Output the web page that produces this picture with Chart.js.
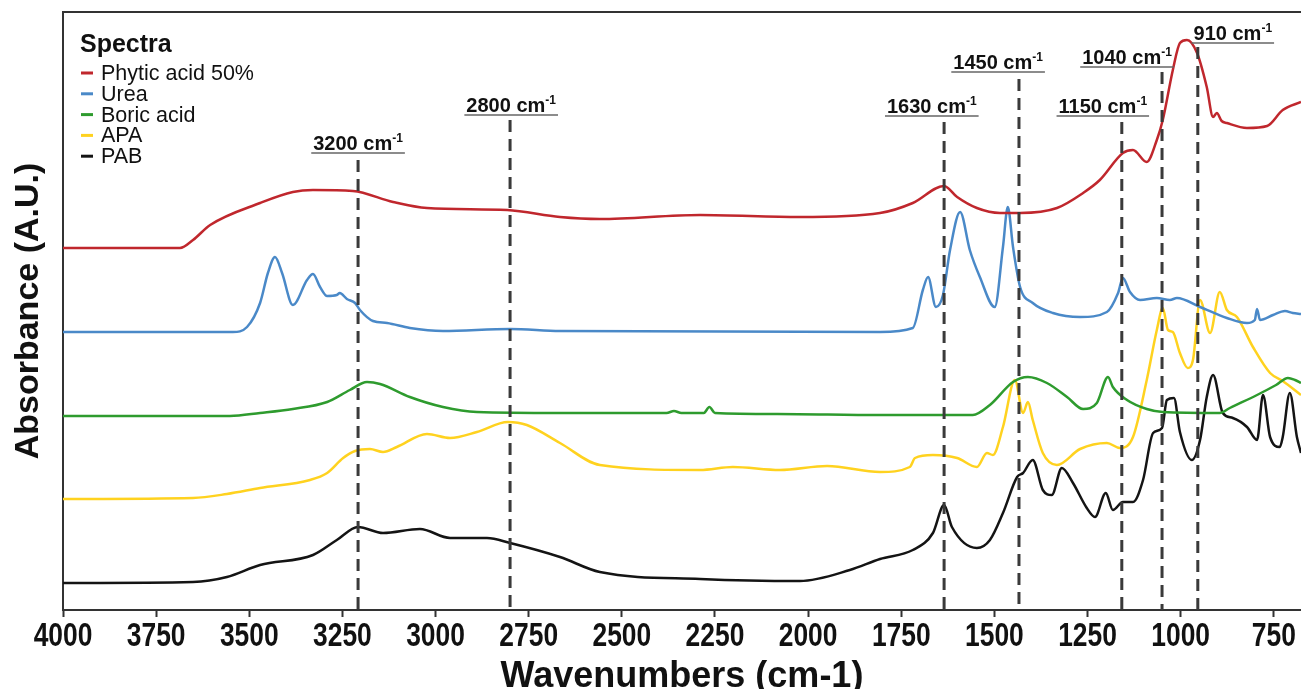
<!DOCTYPE html>
<html>
<head>
<meta charset="utf-8">
<script src="https://cdn.jsdelivr.net/npm/chart.js@4/dist/chart.umd.min.js"></script>
<style>
  html, body { margin: 0; padding: 0; background: #fff; overflow: hidden; }
  #wrap { width: 1301px; height: 689px; }
</style>
</head>
<body>
<div id="wrap"><canvas id="espectros"></canvas></div>
<script>
// espectros FTIR (absorbancia en unidades arbitrarias, ya desplazados)
const phyticWave = [4000, 3686, 3651, 3605, 3471, 3383, 3329, 3222, 3114, 3023, 2808, 2666, 2559, 2290, 2022, 1807, 1719, 1635, 1600, 1547, 1485, 1431, 1332, 1262, 1217, 1155, 1128, 1091, 1064, 1048, 1021, 1002, 983, 956, 930, 913, 903, 890, 876, 822, 768, 726, 677];
const phyticAbs  = [362, 362, 370, 385, 407, 418, 420, 419, 408, 402, 400, 393, 391, 395, 393, 397, 407, 424, 413, 402, 397, 397, 402, 417, 430, 457, 460, 448, 470, 490, 540, 567, 570, 557, 523, 493, 497, 489, 487, 482, 484, 500, 508];

const ureaWave = [4000, 3544, 3506, 3471, 3450, 3431, 3412, 3383, 3345, 3329, 3310, 3291, 3265, 3257, 3238, 3216, 3203, 3168, 3130, 3069, 2980, 2800, 2666, 1807, 1719, 1692, 1678, 1657, 1638, 1619, 1592, 1566, 1539, 1499, 1477, 1464, 1450, 1431, 1397, 1343, 1270, 1198, 1168, 1155, 1136, 1109, 1064, 1029, 1010, 948, 876, 822, 801, 795, 787, 752, 720, 699, 677];
const ureaAbs  = [278, 278, 283, 307, 337, 353, 337, 305, 330, 336, 323, 314, 315, 317, 311, 307, 300, 289, 287, 282, 279, 281, 279, 278, 282, 320, 333, 303, 315, 360, 398, 360, 333, 303, 363, 403, 363, 323, 307, 297, 293, 298, 317, 332, 318, 310, 312, 310, 312, 303, 292, 287, 290, 301, 290, 295, 299, 297, 296];

const boricWave = [4000, 3552, 3471, 3383, 3291, 3230, 3184, 3149, 3069, 2980, 2889, 2666, 2380, 2360, 2340, 2280, 2265, 2250, 2083, 1807, 1558, 1512, 1450, 1410, 1359, 1305, 1262, 1225, 1195, 1182, 1144, 1091, 1048, 895, 868, 795, 744, 712, 693, 677];
const boricAbs  = [194, 194, 197, 201, 208, 220, 228, 226, 213, 203, 198, 197, 197, 199, 197, 197, 203, 197, 196, 195, 195, 205, 228, 233, 227, 213, 201, 207, 233, 223, 210, 201, 198, 197, 202, 215, 225, 232, 230, 227];

const apaWave = [4000, 3651, 3560, 3471, 3337, 3291, 3248, 3216, 3176, 3141, 3104, 3023, 2961, 2889, 2806, 2755, 2666, 2559, 2290, 2202, 2076, 1949, 1807, 1727, 1713, 1665, 1600, 1547, 1520, 1504, 1477, 1445, 1423, 1410, 1397, 1370, 1332, 1270, 1198, 1163, 1128, 1091, 1064, 1048, 1034, 1021, 1002, 981, 967, 948, 921, 895, 876, 849, 806, 760, 726, 677];
const apaAbs  = [111, 112, 116, 122, 130, 137, 152, 159, 161, 158, 163, 176, 172, 178, 188, 185, 167, 145, 140, 143, 140, 144, 138, 143, 152, 155, 152, 143, 157, 155, 183, 230, 197, 208, 190, 157, 145, 161, 167, 162, 173, 230, 280, 302, 280, 278, 257, 242, 250, 310, 277, 318, 300, 293, 263, 237, 229, 215];

const pabWave = [4000, 3651, 3560, 3471, 3329, 3265, 3208, 3141, 3042, 2961, 2862, 2800, 2666, 2559, 2290, 2022, 1888, 1807, 1719, 1665, 1635, 1614, 1547, 1512, 1477, 1439, 1423, 1397, 1370, 1346, 1319, 1289, 1252, 1230, 1201, 1182, 1155, 1128, 1101, 1074, 1050, 1037, 1018, 1002, 970, 948, 930, 913, 887, 860, 822, 795, 779, 760, 734, 726, 707, 688, 677];
const pabAbs  = [27, 28, 33, 45, 55, 70, 83, 77, 81, 72, 72, 67, 53, 38, 31, 29, 40, 51, 60, 77, 105, 83, 62, 70, 97, 133, 137, 150, 120, 115, 142, 127, 102, 93, 117, 100, 108, 108, 130, 177, 182, 210, 212, 178, 150, 170, 213, 235, 197, 192, 183, 170, 215, 173, 163, 173, 217, 173, 157];

const seriesNames = ['Phytic acid 50%', 'Urea', 'Boric acid', 'APA', 'PAB'];

// bandas marcadas con lineas discontinuas
const bandLabels = ['3200', '2800', '1630', '1450', '1150', '1040', '910'];
const bandLineAt = [3208, 2800, 1635, 1434, 1158, 1050, 954];
const bandLabelAt = [3208, 2797, 1668, 1490, 1209, 1144, 860];
const bandTop = [450, 490, 488, 531, 488, 538, 563];
const bandLabelLevel = [457, 495, 494, 538, 494, 543, 567];

const fuente = '"Liberation Sans", Arial, sans-serif';
const colores = ['#C0272D', '#4A89C8', '#2E9B2E', '#FFD21F', '#141414'];

function puntos(xs, ys) {
  return xs.map((w, i) => ({ x: w, y: ys[i] }));
}

const series = [
  puntos(phyticWave, phyticAbs),
  puntos(ureaWave, ureaAbs),
  puntos(boricWave, boricAbs),
  puntos(apaWave, apaAbs),
  puntos(pabWave, pabAbs)
];

const marcoSuperior = {
  id: 'marcoSuperior',
  afterDraw(chart) {
    const { ctx, chartArea } = chart;
    ctx.save();
    ctx.strokeStyle = '#333';
    ctx.lineWidth = 2;
    ctx.beginPath();
    ctx.moveTo(chartArea.left - 1, chartArea.top);
    ctx.lineTo(chart.width, chartArea.top);
    ctx.stroke();
    ctx.restore();
  }
};

// etiquetas del eje x en letra estrecha (escaladas en horizontal)
const etiquetasX = {
  id: 'etiquetasX',
  afterDraw(chart) {
    const { ctx, chartArea, scales: { x } } = chart;
    ctx.save();
    ctx.fillStyle = '#111';
    ctx.font = 'bold 33px ' + fuente;
    ctx.textAlign = 'center';
    ctx.textBaseline = 'alphabetic';
    x.ticks.forEach(t => {
      const px = x.getPixelForValue(t.value);
      ctx.save();
      ctx.translate(px, chartArea.bottom + 36);
      ctx.scale(0.8, 1);
      ctx.fillText(String(t.value), 0, 0);
      ctx.restore();
    });
    ctx.restore();
  }
};

const bandas = {
  id: 'bandas',
  afterDatasetsDraw(chart) {
    const { ctx, chartArea, scales: { x, y } } = chart;
    ctx.save();
    bandLabels.forEach((lab, i) => {
      const px = x.getPixelForValue(bandLineAt[i]);
      ctx.strokeStyle = '#3a3a3a';
      ctx.lineWidth = 3;
      ctx.setLineDash([12, 7]);
      ctx.beginPath();
      ctx.moveTo(px, y.getPixelForValue(bandTop[i]));
      ctx.lineTo(px, chartArea.bottom);
      ctx.stroke();
      ctx.setLineDash([]);

      const main = lab + ' cm';
      ctx.font = 'bold 20px ' + fuente;
      const w1 = ctx.measureText(main).width;
      ctx.font = 'bold 12px ' + fuente;
      const w2 = ctx.measureText('-1').width;
      const total = w1 + w2;
      const cx = x.getPixelForValue(bandLabelAt[i]);
      const uy = y.getPixelForValue(bandLabelLevel[i]);
      const x0 = cx - total / 2;
      ctx.fillStyle = '#111';
      ctx.textBaseline = 'alphabetic';
      ctx.textAlign = 'left';
      ctx.font = 'bold 20px ' + fuente;
      ctx.fillText(main, x0, uy - 3);
      ctx.font = 'bold 12px ' + fuente;
      ctx.fillText('-1', x0 + w1, uy - 11);
      ctx.strokeStyle = '#666';
      ctx.lineWidth = 1.5;
      ctx.beginPath();
      ctx.moveTo(x0 - 2, uy);
      ctx.lineTo(x0 + total + 2, uy);
      ctx.stroke();
    });
    ctx.restore();
  }
};

const leyenda = {
  id: 'leyenda',
  afterDraw(chart) {
    const { ctx } = chart;
    ctx.save();
    ctx.fillStyle = '#111';
    ctx.textBaseline = 'middle';
    ctx.textAlign = 'left';
    ctx.font = 'bold 25px ' + fuente;
    ctx.fillText('Spectra', 80, 45);
    ctx.font = '21.5px ' + fuente;
    chart.data.datasets.forEach((ds, i) => {
      const yy = 73 + i * 20.8;
      ctx.strokeStyle = ds.borderColor;
      ctx.lineWidth = 3;
      ctx.beginPath();
      ctx.moveTo(81, yy);
      ctx.lineTo(93, yy);
      ctx.stroke();
      ctx.fillStyle = '#111';
      ctx.fillText(ds.label, 101, yy + 1);
    });
    ctx.restore();
  }
};

document.addEventListener('DOMContentLoaded', () => {
  const ctx = document.getElementById('espectros').getContext('2d');
  new Chart(ctx, {
    type: 'line',
    data: {
      datasets: series.map((d, i) => ({
        label: seriesNames[i],
        data: d,
        borderColor: colores[i],
        borderWidth: 2.5,
        pointRadius: 0,
        fill: false,
        cubicInterpolationMode: 'monotone'
      }))
    },
    options: {
      responsive: true,
      maintainAspectRatio: false,
      animation: false,
      layout: { padding: { top: 12, right: 0, bottom: 0, left: 0 } },
      plugins: {
        legend: { display: false },
        tooltip: { enabled: false }
      },
      scales: {
        x: {
          type: 'linear',
          reverse: true,
          min: 677,
          max: 4000,
          afterBuildTicks: s => { s.ticks = s.ticks.filter(t => t.value % 250 === 0); },
          afterFit: s => { s.height = 79; },
          ticks: {
            stepSize: 250,
            includeBounds: false,
            autoSkip: false,
            maxRotation: 0,
            color: 'rgba(0,0,0,0)',
            padding: 2,
            callback: v => String(v),
            font: { family: fuente, weight: 'bold', size: 22 }
          },
          grid: { drawOnChartArea: false, drawTicks: true, tickLength: 7, tickWidth: 2, tickColor: '#333' },
          border: { color: '#333', width: 2 },
          title: {
            display: true,
            text: 'Wavenumbers (cm-1)',
            color: '#111',
            padding: { top: 0, bottom: -6 },
            font: { family: fuente, weight: 'bold', size: 36, lineHeight: 1 }
          }
        },
        y: {
          min: 0,
          max: 598,
          afterFit: s => { s.width = 63; },
          ticks: { display: false },
          grid: { display: false },
          border: { display: true, color: '#333', width: 2 },
          title: {
            display: true,
            text: 'Absorbance (A.U.)',
            color: '#111',
            padding: { top: 8, bottom: 0 },
            font: { family: fuente, weight: 'bold', size: 34 }
          }
        }
      }
    },
    plugins: [bandas, leyenda, marcoSuperior, etiquetasX]
  });
});
</script>
</body>
</html>
